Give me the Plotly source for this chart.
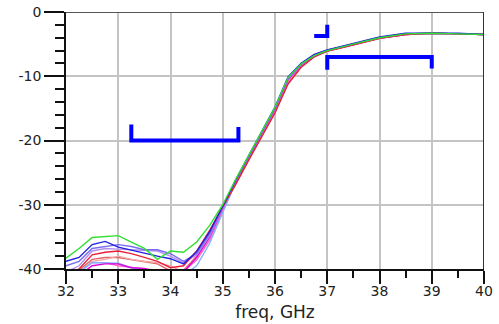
import plotly.graph_objects as go

freq = [32, 32.25, 32.5, 32.75, 33, 33.25, 33.5, 33.75, 34, 34.25, 34.5, 34.75,
        35, 35.25, 35.5, 35.75, 36, 36.25, 36.5, 36.75, 37, 37.5, 38, 38.5, 39, 39.5, 40]

s_green   = [-38.3, -36.8, -35.1, -35.0, -34.8, -35.8, -36.8, -38.5, -37.2, -37.4, -35.8, -33.2,
             -30.0, -26.0, -22.2, -18.5, -14.8, -10.2, -8.1, -6.8, -6.0, -5.0, -4.0, -3.4, -3.3, -3.4, -3.5]
s_blue    = [-38.8, -38.2, -36.2, -35.7, -36.6, -37.1, -37.6, -38.0, -38.4, -39.2, -37.3, -34.2,
             -30.2, -26.1, -22.3, -18.5, -14.8, -10.1, -8.0, -6.6, -5.9, -4.9, -3.9, -3.3, -3.3, -3.3, -3.5]
s_violet  = [-39.5, -38.8, -36.8, -36.5, -36.2, -36.5, -37.0, -37.0, -37.6, -38.8, -37.6, -34.5,
             -30.3, -26.2, -22.4, -18.6, -14.9, -10.3, -8.1, -6.7, -5.9, -5.0, -4.0, -3.4, -3.3, -3.4, -3.5]
s_lilac   = [-40.5, -39.5, -37.2, -36.8, -36.9, -37.0, -37.0, -37.2, -38.0, -39.0, -37.8, -34.8,
             -30.4, -26.3, -22.5, -18.7, -15.0, -10.4, -8.2, -6.8, -6.0, -5.0, -4.0, -3.4, -3.3, -3.4, -3.5]
s_red     = [-41.0, -40.0, -37.8, -37.4, -37.2, -37.6, -38.2, -38.8, -39.8, -39.5, -37.2, -34.0,
             -30.3, -26.8, -23.0, -19.3, -15.7, -11.2, -8.6, -7.0, -6.1, -5.1, -4.1, -3.5, -3.3, -3.4, -3.5]
s_darkred = [-41.0, -40.2, -38.5, -38.2, -38.2, -38.5, -38.8, -39.2, -40.3, -40.2, -38.0, -34.8,
             -30.5, -26.7, -22.9, -19.1, -15.5, -11.0, -8.5, -6.9, -6.1, -5.1, -4.1, -3.5, -3.3, -3.4, -3.5]
s_salmon  = [-41.0, -40.5, -38.8, -38.5, -38.0, -38.5, -38.8, -39.0, -39.5, -40.5, -38.5, -35.3,
             -30.8, -26.6, -22.8, -19.0, -15.4, -10.8, -8.4, -6.9, -6.0, -5.0, -4.0, -3.4, -3.3, -3.4, -3.5]
s_pink    = [-41.0, -40.5, -39.0, -39.0, -39.5, -39.8, -40.0, -40.2, -40.3, -40.3, -38.6, -35.5,
             -31.0, -26.5, -22.6, -18.8, -15.2, -10.6, -8.3, -6.9, -6.0, -5.0, -4.0, -3.5, -3.3, -3.4, -3.5]
s_magenta = [-41.5, -41.0, -39.5, -39.2, -39.2, -39.8, -39.9, -40.5, -41.0, -40.5, -38.2, -35.0,
             -30.5, -26.4, -22.6, -18.8, -15.1, -10.5, -8.3, -6.9, -6.1, -5.1, -4.1, -3.5, -3.3, -3.4, -3.5]
s_skyblue = [-41.0, -40.5, -39.0, -39.0, -39.1, -39.8, -40.2, -41.0, -41.0, -41.0, -39.5, -36.0,
             -31.2, -26.4, -22.5, -18.7, -15.0, -10.4, -8.2, -6.8, -6.0, -5.0, -4.0, -3.4, -3.3, -3.4, -3.5]

series = [
    ("#e06666", s_darkred), ("#f4a6a6", s_salmon), ("#ff66cc", s_pink),
    ("#7fb2ff", s_skyblue), ("#e000e0", s_magenta), ("#b090f0", s_lilac),
    ("#7a6cf0", s_violet), ("#e8203a", s_red), ("#2020e0", s_blue), ("#30e030", s_green),
]

mask1_x = [33.25, 33.25, 35.3, 35.3]
mask1_y = [-17.5, -20.0, -20.0, -17.9]
mask2_x = [37.0, 37.0, 39.0, 39.0]
mask2_y = [-9.0, -7.0, -7.0, -8.8]
mask3_x = [36.75, 37.0, 37.0]
mask3_y = [-3.75, -3.75, -2.0]

x_ticks = [32, 33, 34, 35, 36, 37, 38, 39, 40]
y_ticks = [0, -10, -20, -30, -40]

fig = go.Figure()
for color, ys in series:
    fig.add_trace(go.Scatter(x=freq, y=ys, mode="lines",
                             line=dict(color=color, width=1.4), showlegend=False))
for mx, my in [(mask1_x, mask1_y), (mask2_x, mask2_y), (mask3_x, mask3_y)]:
    fig.add_trace(go.Scatter(x=mx, y=my, mode="lines",
                             line=dict(color="#0000ff", width=4), showlegend=False))

font = dict(family="DejaVu Sans", size=14, color="#222222")
fig.update_layout(
    width=499, height=324,
    margin=dict(l=66, r=15, t=12, b=55),
    paper_bgcolor="white", plot_bgcolor="white",
    font=font,
    xaxis=dict(range=[32, 40], tickvals=x_ticks, ticktext=[str(v) for v in x_ticks],
               automargin=False, ticklabelstandoff=-5,
               showgrid=True, gridcolor="#c4c4c4", gridwidth=1.5,
               showline=True, linecolor="#111111", linewidth=1.5, mirror=False,
               ticks="outside", ticklen=13, tickwidth=1.5, tickcolor="#111111",
               minor=dict(dtick=0.5, ticks="outside", ticklen=7, tickwidth=1.5,
                          tickcolor="#111111", showgrid=False),
               zeroline=False,
               title=dict(text="freq, GHz", font=dict(family="DejaVu Sans", size=17, color="#222222"),
                          standoff=9)),
    yaxis=dict(range=[-40, 0], tickvals=y_ticks, ticktext=[str(v) for v in y_ticks],
               automargin=False,
               showgrid=True, gridcolor="#c4c4c4", gridwidth=1.5,
               showline=True, linecolor="#111111", linewidth=1.5,
               ticks="outside", ticklen=20, tickwidth=1.5, tickcolor="#111111",
               minor=dict(dtick=2, ticks="outside", ticklen=9, tickwidth=1.5,
                          tickcolor="#111111", showgrid=False),
               zeroline=False),
    shapes=[
        dict(type="line", xref="x", yref="y", x0=32, x1=40, y0=0, y1=0,
             line=dict(color="#555555", width=2)),
        dict(type="line", xref="x", yref="y", x0=40, x1=40, y0=-40, y1=0,
             line=dict(color="#333333", width=2)),
    ],
)
fig.write_html("out.html", config={"displayModeBar": False},
               post_script="document.body.style.margin='0';document.body.style.overflow='hidden';")
